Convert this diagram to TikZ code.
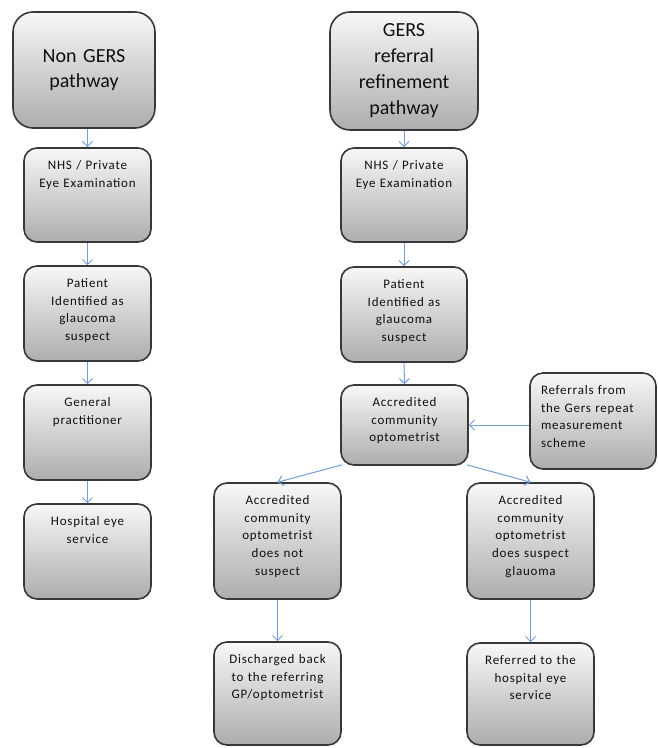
\documentclass[tikz,border=0pt]{standalone}
\usepackage{fontspec}
\setmainfont{Carlito}
\newfontfamily\boxfont[LetterSpace=6]{Carlito}
\usetikzlibrary{arrows.meta,calc}
\definecolor{arrowblue}{HTML}{729DD6}
\definecolor{boxedge}{HTML}{383838}
\definecolor{boxtop}{HTML}{F7F7F7}
\definecolor{boxmid}{HTML}{D6D6D6}
\definecolor{boxbot}{HTML}{ADADAD}
\definecolor{txt}{HTML}{101010}
\tikzset{
  pbox/.style={draw=boxedge, line width=1.6pt, rounded corners=13pt, top color=boxtop, middle color=boxmid, bottom color=boxbot, inner sep=0pt},
  bigbox/.style={pbox, rounded corners=20pt},
  ptext/.style={inner sep=0pt, text width=120pt, align=center, text=txt, font=\boxfont\fontsize{13}{17.7}\selectfont},
  ltext/.style={ptext, text width=104pt, align=left},
  bigtext/.style={inner sep=0pt, text width=140pt, align=center, text=txt, font=\fontsize{20}{25}\selectfont},
  arr/.style={draw=arrowblue, line width=1pt, -{Straight Barb[length=5pt,width=10pt]}}
}
\newcommand\pathbox[7][ptext]{%
  \node[pbox, minimum width={#4-#2}, minimum height={#5-#3}] (#6) at ({(#2+#4)/2},{(#3+#5)/2}) {};
  \node[#1, anchor=north] (#6t) at ([yshift=-13pt]#6.north) {#7};}
\begin{document}
\begin{tikzpicture}[x=1pt,y=-1pt]
\useasboundingbox (0,0) rectangle (658,748);
% left column
\node[bigbox, minimum width=142pt, minimum height=116pt] (L0) at (84,70) {};
\node[bigtext] (L0t) at (L0) {Non GERS\\pathway};
\pathbox{24}{148}{151}{242}{L1}{NHS / Private\\Eye Examination}
\pathbox{24}{266}{151}{361}{L2}{Patient\\Identified as\\glaucoma\\suspect}
\pathbox{24}{385}{151}{480}{L3}{General\\practitioner}
\pathbox{24}{504}{151}{599}{L4}{Hospital eye\\service}
% right column
\node[bigbox, minimum width=148pt, minimum height=118pt] (R0) at (404,71) {};
\node[bigtext, font=\fontsize{20}{26}\selectfont] (R0t) at (R0) {GERS\\referral\\refinement\\pathway};
\pathbox{341}{148}{467}{242}{R1}{NHS / Private\\Eye Examination}
\pathbox{341}{267}{467}{362}{R2}{Patient\\Identified as\\glaucoma\\suspect}
\pathbox{341}{385}{468}{465}{R3}{Accredited\\community\\optometrist}
\pathbox[ltext]{530}{373}{656}{469}{RF}{Referrals from\\the Gers repeat\\measurement\\scheme}
\pathbox{214}{483}{341}{599}{RA}{Accredited\\community\\optometrist\\does not\\suspect}
\pathbox{467}{483}{594}{599}{RB}{Accredited\\community\\optometrist\\does suspect\\glauoma}
\pathbox{214}{642}{341}{745}{RC}{Discharged back\\to the referring\\GP/optometrist}
\pathbox{467}{643}{594}{745}{RD}{Referred to the\\hospital eye\\service}
% connectors
\draw[arr] (L0.south -| L1.north) -- (L1.north);
\draw[arr] (L1.south) -- (L2.north);
\draw[arr] (L2.south) -- (L3.north);
\draw[arr] (L3.south) -- (L4.north);
\draw[arr] (R0.south -| R1.north) -- (R1.north);
\draw[arr] (R1.south) -- (R2.north);
\draw[arr] (R2.south) -- (R3.north);
\draw[arr] (RF.west |- R3.east) -- (R3.east);
\draw[arr] ($(R3.south west)+(2,-1)$) -- (RA.north);
\draw[arr] ($(R3.south east)+(-2,-1)$) -- (RB.north);
\draw[arr] (RA.south) -- (RC.north);
\draw[arr] (RB.south) -- (RD.north);
\end{tikzpicture}
\end{document}
